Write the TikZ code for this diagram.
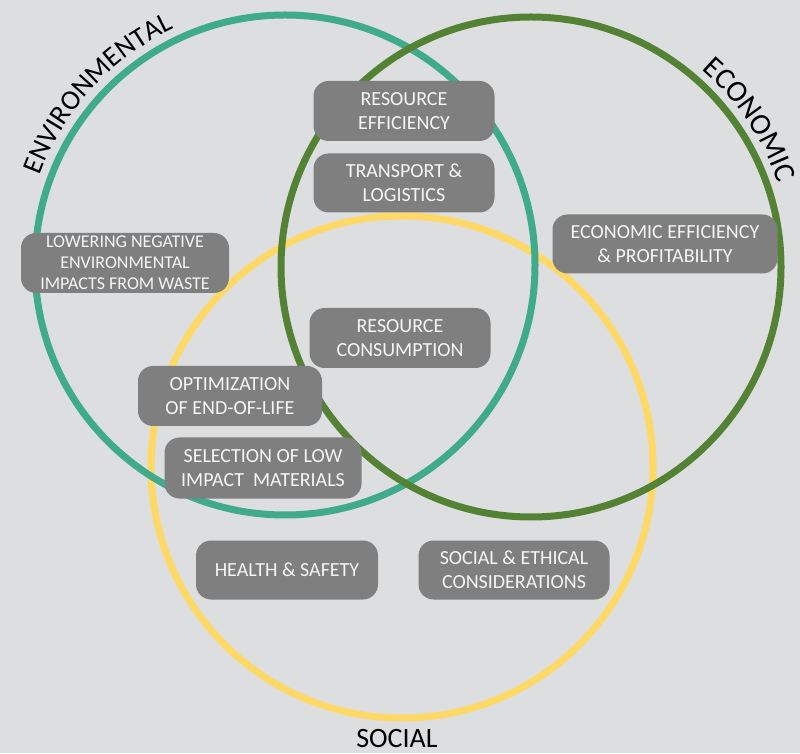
\documentclass[tikz,border=0pt]{standalone}
\usepackage{fontspec}
\setmainfont{Carlito}
\usetikzlibrary{decorations.text}
\definecolor{bg}{RGB}{221,222,224}
\definecolor{envcol}{RGB}{64,171,139}
\definecolor{ecocol}{RGB}{84,130,53}
\definecolor{soccol}{RGB}{255,217,102}
\definecolor{boxgray}{RGB}{127,127,127}
\definecolor{boxtext}{RGB}{245,245,245}
\newcommand{\lblfont}{\fontsize{28}{30}\selectfont}
\newcommand{\ecolblfont}{\fontsize{30}{32}\selectfont}
\tikzset{
  ring/.style={line width=7pt},
  itembox/.style={rounded corners=15pt, fill=boxgray, text=boxtext, align=center,
    font=\fontsize{20}{24}\selectfont, inner sep=0pt},
}
\begin{document}
\begin{tikzpicture}[x=1pt,y=1pt]
\useasboundingbox[fill=bg] (0,0) rectangle (800,753);
% circle centres
\coordinate (cenv) at (285,488);
\coordinate (ceco) at (531,486);
\coordinate (csoc) at (402,286);
\draw[ring, soccol] (csoc) circle[radius=251];
\draw[ring, envcol] (cenv) circle[radius=250];
\draw[ring, ecocol] (ceco) circle[radius=250];
% curved labels
\path[decorate, decoration={text along path, text align=center,
  text={|\lblfont|ENVIRONMENTAL}}]
  (cenv) ++(172:261) arc[start angle=172, end angle=103, radius=261];
\path[decorate, decoration={text along path, text align=center,
  text={|\ecolblfont|ECONOMIC}}]
  (ceco) ++(60:261) arc[start angle=60, end angle=8, radius=261];
\node[anchor=base, font=\lblfont, inner sep=0pt] (soc) at (397,6) {SOCIAL};
% boxes
\node[itembox, minimum width=181pt, minimum height=60pt] (re) at (404,642) {RESOURCE\\EFFICIENCY};
\node[itembox, minimum width=181pt, minimum height=59pt] (tl) at (404,570) {TRANSPORT \&\\LOGISTICS};
\node[itembox, minimum width=208pt, minimum height=60pt, font=\fontsize{18}{21}\selectfont] (ln) at (125,490) {LOWERING NEGATIVE\\ENVIRONMENTAL\\IMPACTS FROM WASTE};
\node[itembox, minimum width=225pt, minimum height=59pt] (ee) at (665,509) {ECONOMIC EFFICIENCY\\\& PROFITABILITY};
\node[itembox, minimum width=181pt, minimum height=60pt] (rc) at (400,415) {RESOURCE\\CONSUMPTION};
\node[itembox, minimum width=184pt, minimum height=60pt] (oe) at (230,357) {OPTIMIZATION\\OF END-OF-LIFE};
\node[itembox, minimum width=197pt, minimum height=61pt] (sl) at (263,285) {SELECTION OF LOW\\IMPACT\ \ MATERIALS};
\node[itembox, minimum width=182pt, minimum height=59pt] (hs) at (287,183) {HEALTH \& SAFETY};
\node[itembox, minimum width=191pt, minimum height=59pt] (se) at (514,183) {SOCIAL \& ETHICAL\\CONSIDERATIONS};
\end{tikzpicture}
\end{document}
